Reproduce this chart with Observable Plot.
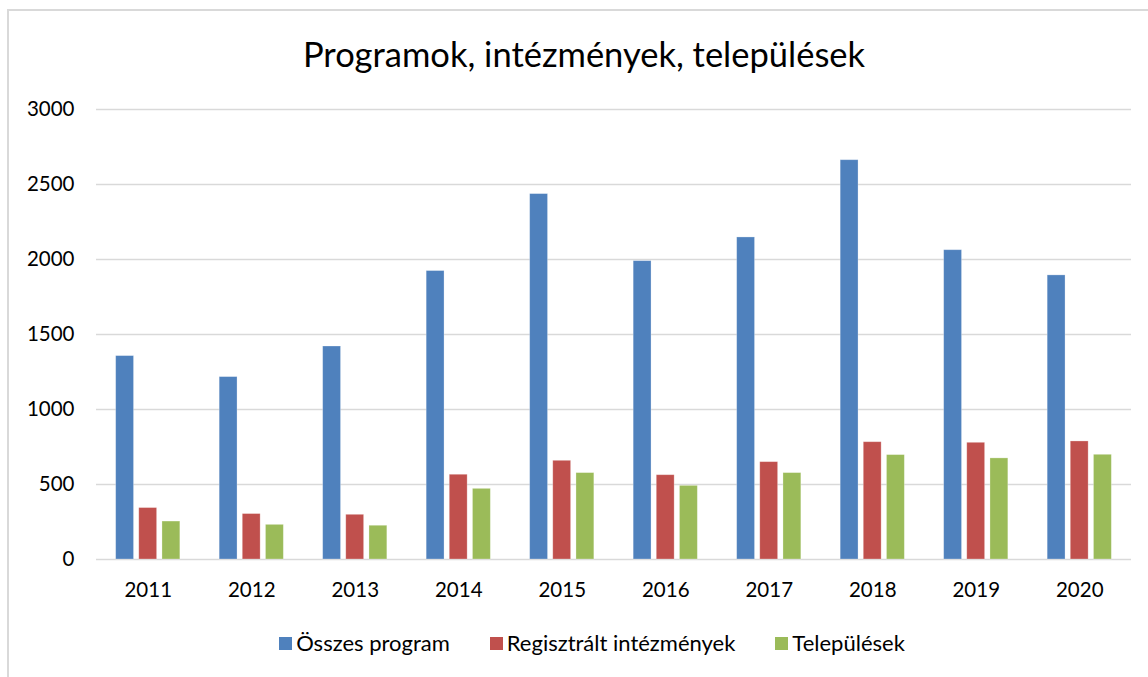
<!DOCTYPE html>
<html>
<head>
<meta charset="utf-8">
<script src="https://cdn.jsdelivr.net/npm/d3@7"></script>
<script src="https://cdn.jsdelivr.net/npm/@observablehq/plot@0.6"></script>
<style>
  html, body { margin: 0; padding: 0; overflow: hidden; background: #fff; }
  #wrap { position: relative; width: 1148px; height: 677px; font-family: Lato, "Open Sans", sans-serif; color: #000; }
  #frame { position: absolute; left: 7px; top: 9px; width: 1200px; height: 700px; border-left: 2px solid #d9d9d9; border-top: 2px solid #d9d9d9; box-sizing: border-box; pointer-events: none; }
  #title { height: 90px; box-sizing: border-box; padding-top: 33px; padding-left: 20px; text-align: center; font-size: 34.5px; line-height: 42px; }
  #chart svg { display: block; }
  #legend { display: flex; justify-content: center; gap: 40px; margin-top: 21px; padding-left: 36px; font-size: 22px; line-height: 26px; }
  .item { display: flex; align-items: center; }
  .sw { width: 13px; height: 13px; margin-right: 4px; }
</style>
</head>
<body>
<div id="wrap">
  <div id="frame"></div>
  <div id="title">Programok, intézmények, települések</div>
  <div id="chart"></div>
  <div id="legend"></div>
</div>
<script>
const years = ["2011","2012","2013","2014","2015","2016","2017","2018","2019","2020"];
const seriesNames = ["Összes program","Regisztrált intézmények","Települések"];
const osszesProgram = [1356,1216,1420,1923,2436,1989,2147,2662,2062,1894];
const regisztraltIntezmenyek = [343,303,298,565,658,562,649,782,778,787];
const telepulesek = [253,231,225,471,576,491,576,696,674,698];
const colors = ["#4f81bd","#c0504d","#9bbb59"];
const yTicks = [0,500,1000,1500,2000,2500,3000];

const seriesValues = [osszesProgram, regisztraltIntezmenyek, telepulesek];
// inset per series inside the year band (band ≈ 64px: three 18px bars, 5px gaps)
const insets = [[0, 46.3], [23.1, 23.2], [46.3, 0]];

const marks = [
  Plot.ruleY(yTicks, {stroke: "#d9d9d9", strokeWidth: 1.6}),
  ...seriesValues.map((vals, i) => Plot.barY(vals, {
    x: years, y: vals, fill: colors[i],
    insetLeft: insets[i][0], insetRight: insets[i][1],
    stroke: "#ffffff", strokeOpacity: 0.35, strokeWidth: 0.8
  })),
  Plot.axisY({ticks: yTicks, tickFormat: d3.format("d"), tickSize: 0, tickPadding: 22, fontSize: 20.5}),
  Plot.axisX({tickSize: 0, tickPadding: 23, fontSize: 20.5})
];

const chart = Plot.plot({
  width: 1148,
  height: 519,
  marginLeft: 96,
  marginRight: 17,
  marginTop: 19,
  marginBottom: 50,
  style: {fontFamily: "Lato, 'Open Sans', sans-serif", fontSize: "20px", color: "#000", background: "transparent", overflow: "visible"},
  x: {domain: years, paddingInner: 0.38, paddingOuter: 0.19, round: false, label: null},
  y: {domain: [0, 3000], label: null},
  marks
});
document.getElementById("chart").appendChild(chart);

const legend = document.getElementById("legend");
seriesNames.forEach((name, i) => {
  const item = document.createElement("div");
  item.className = "item";
  const sw = document.createElement("span");
  sw.className = "sw";
  sw.style.background = colors[i];
  const t = document.createElement("span");
  t.textContent = name;
  item.appendChild(sw);
  item.appendChild(t);
  legend.appendChild(item);
});
</script>
</body>
</html>
